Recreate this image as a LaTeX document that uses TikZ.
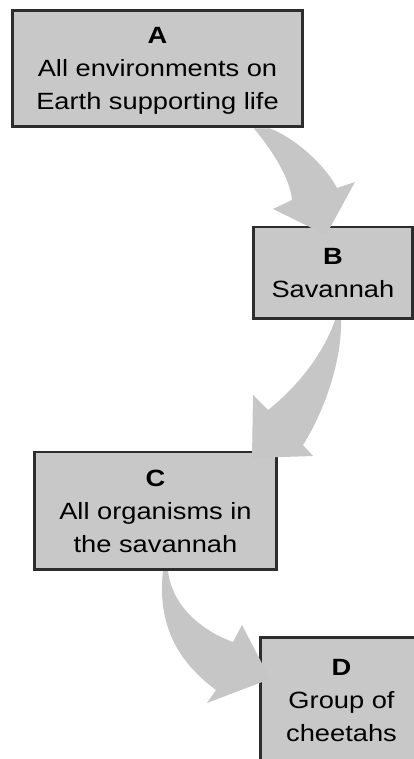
\documentclass[tikz,border=0pt]{standalone}
\usepackage{fontspec}
\setmainfont{Liberation Sans}[FakeStretch=1.16]
\definecolor{boxfill}{RGB}{200,200,200}
\definecolor{arrowfill}{RGB}{198,198,198}
\definecolor{boxline}{RGB}{45,45,45}
\newcommand{\lvltext}[2]{\raisebox{#1}[\height][\depth]{\begin{tabular}{@{}c@{}}#2\end{tabular}}}
\newcommand{\lvlmark}[1]{{\fontsize{23.5pt}{33pt}\selectfont\bfseries #1}}
\tikzset{
  levelbox/.style={draw=boxline, line width=2.7pt, fill=boxfill, inner sep=0pt,
    font=\fontsize{23.5pt}{33pt}\selectfont, text=black},
  bigarrow/.style={fill=arrowfill, draw=none}
}
\begin{document}
\begin{tikzpicture}[x=1pt,y=-1pt]
\useasboundingbox (0,0) rectangle (414,759);
\fill[white] (0,0) rectangle (414,759);
% boxes
\node[levelbox, minimum width=290.3pt, minimum height=116.3pt] (A) at (157.5,68.5)
  {\lvltext{-1.2pt}{\lvlmark{A}\\All environments on\\Earth supporting life}};
\node[levelbox, minimum width=158.5pt, minimum height=91.6pt] (B) at (332.9,272.85)
  {\lvltext{-2pt}{\lvlmark{B}\\Savannah}};
\node[levelbox, minimum width=241.7pt, minimum height=117.3pt] (C) at (155.5,510.7)
  {\lvltext{-1.7pt}{\lvlmark{C}\\All organisms in\\the savannah}};
\node[levelbox, minimum width=161.7pt, minimum height=126.9pt] (D) at (341.5,700.8)
  {\lvltext{-0.6pt}{\lvlmark{D}\\Group of\\cheetahs}};
% curved block arrows
\path[bigarrow] (254,128.5) .. controls (272,150) and (290,178) .. (292,200)
  -- (273,209) -- (326,235) -- (355,182) -- (337,188)
  .. controls (325,165) and (295,138) .. (270,128.5) -- cycle;
\path[bigarrow] (335,320) .. controls (325,350) and (300,385) .. (268,410)
  -- (253,395) -- (252,458) -- (313,456) -- (303,445)
  .. controls (325,410) and (342,360) .. (341,320) -- cycle;
\path[bigarrow] (163,571) .. controls (157,625) and (178,662) .. (216,690)
  -- (207,703) -- (270,679) -- (242,625) -- (233,642)
  .. controls (200,630) and (172,605) .. (168,571) -- cycle;
\end{tikzpicture}
\end{document}
